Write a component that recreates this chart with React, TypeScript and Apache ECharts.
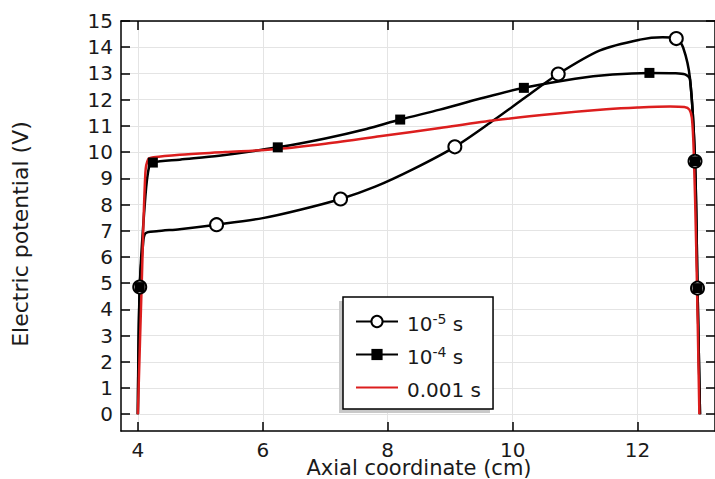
import React, { useEffect, useRef } from 'react';
import * as echarts from 'echarts';

const xTickValues = [4, 6, 8, 10, 12];
const yTickValues = [0, 1, 2, 3, 4, 5, 6, 7, 8, 9, 10, 11, 12, 13, 14, 15];
const xMin = 3.73;
const xMax = 13.24;
const yMin = -0.64;
const yMax = 15;

// t = 1e-5 s
const axialA = [4.0, 4.03, 4.08, 4.12, 4.3, 4.67, 5.26, 6.0, 6.6, 7.245, 7.8, 8.4, 9.075, 9.7, 10.2, 10.73, 11.4, 12.04, 12.4, 12.62, 12.73, 12.84, 12.92, 12.96, 13.0];
const potentialA = [0, 4.85, 6.4, 6.9, 6.98, 7.06, 7.23, 7.48, 7.8, 8.21, 8.68, 9.34, 10.2, 11.22, 12.08, 12.98, 13.88, 14.29, 14.38, 14.33, 13.99, 12.8, 9.65, 4.81, 0];
const markedA = [1, 6, 9, 12, 15, 19, 22, 23];

// t = 1e-4 s
const axialB = [4.0, 4.03, 4.12, 4.18, 4.24, 4.67, 5.3, 6.24, 7.0, 7.66, 8.2, 8.835, 9.5, 10.18, 11.0, 11.6, 12.19, 12.6, 12.76, 12.84, 12.92, 12.96, 13.0];
const potentialB = [0, 4.85, 8.3, 9.45, 9.6, 9.71, 9.86, 10.18, 10.52, 10.88, 11.24, 11.62, 12.05, 12.45, 12.8, 12.96, 13.02, 13.01, 12.96, 12.76, 9.65, 4.81, 0];
const markedB = [1, 4, 7, 10, 13, 16, 20, 21];

// t = 0.001 s
const axialC = [4.0, 4.06, 4.12, 4.165, 4.25, 4.67, 5.4, 6.24, 7.0, 7.87, 8.835, 9.74, 10.68, 11.5, 12.0, 12.52, 12.75, 12.83, 12.87, 12.9, 12.94, 12.99];
const potentialC = [0, 4.85, 9.2, 9.72, 9.8, 9.9, 10.0, 10.12, 10.32, 10.6, 10.92, 11.22, 11.46, 11.63, 11.7, 11.74, 11.72, 11.62, 11.3, 10.0, 6.3, 0];

const seriesNames = ['1e-5 s', '1e-4 s', '0.001 s'];
const legendLabels = ['10{e|-5} s', '10{e|-4} s', '0.001 s'];

const FONT = 'DejaVu Sans';
const INK = '#1a1a1a';

function pointsOf(xs: number[], ys: number[], marked: number[]) {
  return xs.map((x, i) =>
    marked.includes(i) ? [x, ys[i]] : { value: [x, ys[i]], symbol: 'none' }
  );
}

function frameAxis(position: string, min: number, max: number, ticks: number[], withLabels: boolean, margin = 8) {
  return {
    type: 'value',
    position,
    min,
    max,
    axisLine: { show: true, onZero: false, lineStyle: { color: '#000', width: 1.5 } },
    axisTick: {
      show: true,
      inside: true,
      length: 9,
      customValues: ticks,
      lineStyle: { color: '#000', width: 1.5 },
    },
    axisLabel: withLabels
      ? { show: true, customValues: ticks, fontSize: 20, fontFamily: FONT, color: INK, margin }
      : { show: false },
    splitLine: withLabels
      ? { show: true, lineStyle: { color: '#e4e4e4', width: 1 } }
      : { show: false },
  };
}

export default function App() {
  const ref = useRef<HTMLDivElement>(null);

  useEffect(() => {
    if (!ref.current) return;
    const chart = echarts.init(ref.current, undefined, { renderer: 'svg' });
    chart.setOption({
      animation: false,
      backgroundColor: '#fff',
      grid: { left: 121, right: 0, top: 21, bottom: 48, containLabel: false },
      xAxis: [
        frameAxis('bottom', xMin, xMax, xTickValues, true, 9),
        frameAxis('top', xMin, xMax, xTickValues, false),
      ],
      yAxis: [
        frameAxis('left', yMin, yMax, yTickValues, true),
        frameAxis('right', yMin, yMax, yTickValues, false),
      ],
      legend: {
        orient: 'vertical',
        left: 343,
        top: 297,
        padding: [11, 12, 8, 12],
        itemWidth: 42,
        itemHeight: 14,
        itemGap: 6,
        backgroundColor: '#fff',
        borderColor: '#000',
        borderWidth: 1.5,
        selectedMode: false,
        data: [
          { name: seriesNames[0] },
          { name: seriesNames[1] },
          { name: seriesNames[2], itemStyle: { opacity: 0 } },
        ],
        formatter: (name: string) => legendLabels[seriesNames.indexOf(name)],
        textStyle: {
          fontFamily: FONT,
          fontSize: 20,
          color: INK,
          height: 23,
          lineHeight: 23,
          padding: [4, 0, 0, 4],
          rich: {
            e: { fontSize: 14, fontFamily: FONT, color: INK, lineHeight: 14, verticalAlign: 'top' },
          },
        },
      },
      graphic: [
        {
          type: 'rect',
          z: 3,
          shape: { x: 339, y: 301, width: 151, height: 112 },
          style: { fill: '#c9c9c9' },
        },
        {
          type: 'text',
          x: 419,
          y: 468,
          style: {
            text: 'Axial coordinate (cm)',
            fontSize: 21,
            fontFamily: FONT,
            fill: INK,
            textAlign: 'center',
            textVerticalAlign: 'middle',
          },
        },
        {
          type: 'text',
          x: 20,
          y: 234,
          rotation: Math.PI / 2,
          style: {
            text: 'Electric potential (V)',
            fontSize: 22,
            fontFamily: FONT,
            fill: INK,
            textAlign: 'center',
            textVerticalAlign: 'middle',
          },
        },
      ],
      series: [
        {
          name: seriesNames[0],
          type: 'line',
          data: pointsOf(axialA, potentialA, markedA),
          symbol: 'emptyCircle',
          symbolSize: 13,
          smooth: 0.3,
          lineStyle: { color: '#000', width: 2.5 },
          itemStyle: { color: '#000', borderWidth: 2 },
          emphasis: { disabled: true },
          z: 2,
        },
        {
          name: seriesNames[1],
          type: 'line',
          data: pointsOf(axialB, potentialB, markedB),
          symbol: 'rect',
          symbolSize: 10,
          smooth: 0.3,
          lineStyle: { color: '#000', width: 2.5 },
          itemStyle: { color: '#000' },
          emphasis: { disabled: true },
          z: 2,
        },
        {
          name: seriesNames[2],
          type: 'line',
          data: axialC.map((x, i) => [x, potentialC[i]]),
          symbol: 'none',
          smooth: 0.3,
          lineStyle: { color: '#dc1e1e', width: 2.5 },
          itemStyle: { color: '#dc1e1e' },
          emphasis: { disabled: true },
          z: 2,
        },
      ],
    });
    return () => chart.dispose();
  }, []);

  return (
    <div
      ref={ref}
      style={{ position: 'fixed', left: 0, top: 0, width: 715, height: 479, background: '#fff' }}
    />
  );
}
